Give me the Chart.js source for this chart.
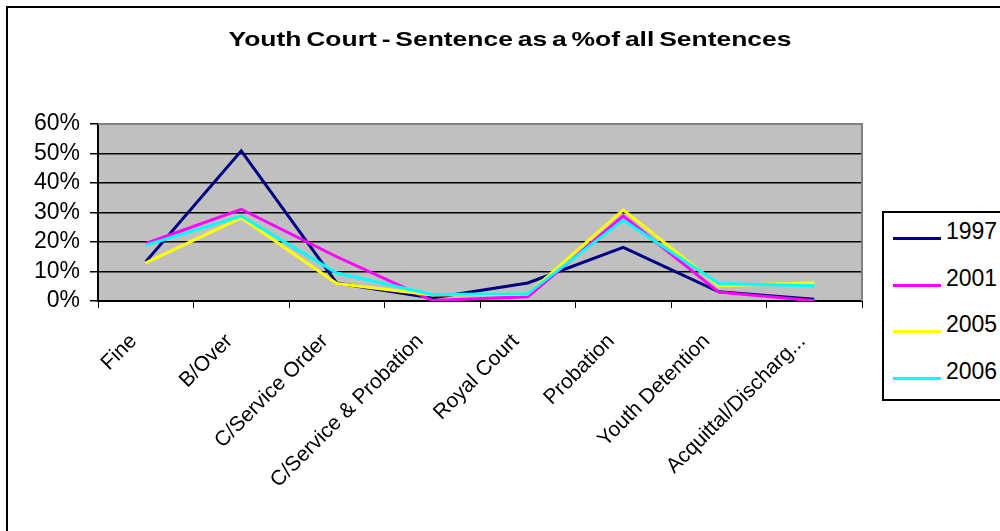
<!DOCTYPE html>
<html>
<head>
<meta charset="utf-8">
<script src="https://cdn.jsdelivr.net/npm/chart.js@4"></script>
<style>
    html, body { margin: 0; padding: 0; background: #fff; overflow: hidden; }
    #wrap { position: relative; width: 1000px; height: 531px; overflow: hidden; font-family: "Liberation Sans", Arial, sans-serif; }
    #frame { position: absolute; left: 6px; top: 6px; width: 1100px; height: 600px; border: 2px solid #000; }
    #title { position: absolute; left: 0; width: 1020px; top: 27px; text-align: center; font-weight: bold; font-size: 21px; word-spacing: -2px; color: #000; transform: scaleX(1.26); transform-origin: 510px 0; }
    #chart { position: absolute; left: 0; top: 0; }
    #legend { position: absolute; left: 882px; top: 211px; width: 140px; height: 186px; border: 2px solid #000; background: #fff; }
    .item { position: absolute; left: 0; height: 24px; font-size: 23px; color: #000; }
    .item span.swatch { position: absolute; left: 9px; top: 18px; width: 48px; height: 3px; }
    .item span.txt { position: absolute; left: 62px; top: 0; line-height: 24px; }
</style>
</head>
<body>
<div id="wrap">
    <div id="frame"></div>
    <canvas id="chart" width="1000" height="531"></canvas>
    <div id="title">Youth Court - Sentence as a %of all Sentences</div>
    <div id="legend"></div>
</div>
<script>
// ---------- data ----------
const categories = ['Fine', 'B/Over', 'C/Service Order', 'C/Service & Probation', 'Royal Court', 'Probation', 'Youth Detention', 'Acquittal/Discharg...'];
const years = ['1997', '2001', '2005', '2006'];
const values1997 = [13.3, 50.9, 6.1, 1.0, 6.1, 18.2, 3.1, 0.6];
const values2001 = [19.5, 31.1, 15.0, 0.2, 1.4, 28.8, 3.0, 0.1];
const values2005 = [12.9, 28.2, 5.9, 2.0, 2.4, 30.9, 5.2, 6.2];
const values2006 = [18.9, 28.8, 9.5, 2.2, 2.5, 27.4, 5.9, 5.2];
const yTicks = [0, 10, 20, 30, 40, 50, 60];

const seriesColors = ['#000080', '#FF00FF', '#FFFF00', '#00FFFF'];
const seriesValues = [values1997, values2001, values2005, values2006];

// ---------- grey plot background + grey top/right edge ----------
const plotArea = {
    id: 'plotArea',
    beforeDraw(chart) {
        const a = chart.chartArea;
        const ctx = chart.ctx;
        ctx.save();
        ctx.fillStyle = '#C0C0C0';
        ctx.fillRect(a.left, a.top, a.right - a.left, a.bottom - a.top);
        ctx.restore();
    },
    afterDraw(chart) {
        const a = chart.chartArea;
        const ctx = chart.ctx;
        ctx.save();
        ctx.strokeStyle = '#808080';
        ctx.lineWidth = 2;
        ctx.beginPath();
        ctx.moveTo(a.left, a.top);
        ctx.lineTo(a.right, a.top);
        ctx.lineTo(a.right, a.bottom);
        ctx.stroke();
        ctx.restore();
    }
};

const datasets = years.map((y, i) => ({
    label: y,
    data: seriesValues[i],
    borderColor: seriesColors[i],
    backgroundColor: seriesColors[i],
    borderWidth: 3,
    pointRadius: 0,
    tension: 0,
    fill: false,
    order: years.length - i
}));

new Chart(document.getElementById('chart'), {
    type: 'line',
    data: {
        labels: categories,
        datasets: datasets
    },
    options: {
        responsive: false,
        animation: false,
        layout: {
            padding: { left: 0, right: 138, top: 124, bottom: 0 }
        },
        scales: {
            x: {
                offset: true,
                afterFit: (scale) => { scale.height = 230; },
                grid: {
                    offset: true,
                    drawOnChartArea: false,
                    drawTicks: true,
                    tickLength: 7,
                    color: '#000',
                    lineWidth: 1
                },
                border: { color: '#000', width: 2 },
                ticks: {
                    autoSkip: false,
                    minRotation: 45,
                    maxRotation: 45,
                    padding: 21,
                    labelOffset: -12,
                    color: '#000',
                    font: { family: '"Liberation Sans", Arial, sans-serif', size: 21 }
                }
            },
            y: {
                min: 0,
                max: 60,
                afterFit: (scale) => { scale.width = 98; },
                afterBuildTicks: (scale) => { scale.ticks = yTicks.map(v => ({ value: v })); },
                grid: {
                    color: (c) => c.tick && c.tick.value === 60 ? '#808080' : '#000',
                    lineWidth: 1.5,
                    tickLength: 8,
                    tickColor: '#000'
                },
                border: { color: '#000', width: 2 },
                ticks: {
                    autoSkip: false,
                    padding: 10,
                    color: '#000',
                    font: { family: '"Liberation Sans", Arial, sans-serif', size: 23 },
                    callback: (v) => v + '%'
                }
            }
        },
        plugins: {
            legend: { display: false },
            tooltip: { enabled: false }
        }
    },
    plugins: [plotArea]
});

// ---------- legend box ----------
const legend = document.getElementById('legend');
const rowTops = [6, 53, 99, 146];
years.forEach((y, i) => {
    const row = document.createElement('div');
    row.className = 'item';
    row.style.top = rowTops[i] + 'px';
    row.innerHTML = '<span class="swatch" style="background:' + seriesColors[i] + '"></span><span class="txt">' + y + '</span>';
    legend.appendChild(row);
});
</script>
</body>
</html>
